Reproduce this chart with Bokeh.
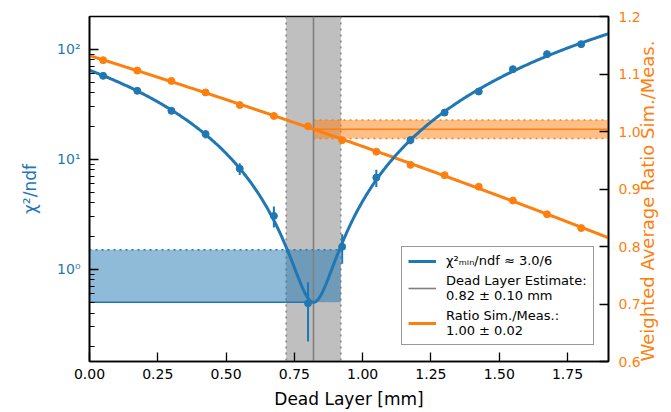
import numpy as np
from bokeh.plotting import figure
from bokeh.models import (Range1d, LinearAxis, LinearScale, FixedTicker, NumeralTickFormatter,
                          BoxAnnotation, Span, Legend, LegendItem)
from bokeh.embed import file_html
from bokeh.resources import INLINE

# ---------------- data ----------------
dead_layer_mm = [0.05, 0.175, 0.3, 0.425, 0.55, 0.675, 0.8, 0.925,
                 1.05, 1.175, 1.3, 1.425, 1.55, 1.675, 1.8]
chi2_ndf = [57.2, 41.8, 27.5, 16.9, 8.2, 3.05, 0.49, 1.6,
            6.8, 14.9, 26.5, 41.2, 65.8, 90.1, 111.0]
chi2_err = [2.0, 2.0, 1.5, 1.5, 1.0, 0.66, 0.27, 0.48,
            1.2, 1.2, 1.5, 2.0, 2.5, 3.0, 3.0]
ratio = [1.124, 1.106, 1.088, 1.068, 1.046, 1.027, 1.009, 0.985,
         0.965, 0.942, 0.924, 0.904, 0.880, 0.856, 0.832]
ratio_err = [0.003] * 15

dl_estimate = 0.82
dl_uncert = 0.10
chi2_min = 0.5          # 3.0 / 6
chi2_band_top = 1.5     # chi2_min + 1
ratio_est = 1.004
ratio_unc = 0.016

x_ticks = [0.0, 0.25, 0.5, 0.75, 1.0, 1.25, 1.5, 1.75]
left_ticks = [1, 10, 100]
left_tick_labels = ["10⁰", "10¹", "10²"]
right_ticks = [0.6, 0.7, 0.8, 0.9, 1.0, 1.1, 1.2]

x_lim = (0.0, 1.9)
y_lim = (0.145, 198.0)
r_lim = (0.6, 1.2)

right_label = "Weighted Average Ratio Sim./Meas."

BLUE = "#1f77b4"
ORANGE = "#ff7f0e"
GREY = "#808080"
FONT = "DejaVu Sans"

x = np.array(dead_layer_mm)
c = np.array(chi2_ndf)
ce = np.array(chi2_err)
r = np.array(ratio)
re_ = np.array(ratio_err)

# fitted curves from the data
xs = np.linspace(x_lim[0], x_lim[1], 500)
d = x - dl_estimate
A = np.vstack([d**2, d**3, d**4]).T
w = 1.0 / c
coef, *_ = np.linalg.lstsq(A * w[:, None], (c - chi2_min) * w, rcond=None)
ds = xs - dl_estimate
chi_curve = chi2_min + coef[0] * ds**2 + coef[1] * ds**3 + coef[2] * ds**4
chi_curve = np.maximum(chi_curve, chi2_min)

pr = np.polyfit(x, r, 2)
ratio_curve = np.polyval(pr, xs)

# ---------------- figure ----------------
p = figure(width=671, height=412, x_range=Range1d(*x_lim), y_range=Range1d(*y_lim),
           y_axis_type="log", output_backend="svg", toolbar_location=None,
           min_border_left=89, min_border_right=61, min_border_top=16, min_border_bottom=51)
p.extra_y_ranges = {"ratio": Range1d(*r_lim)}
p.extra_y_scales = {"ratio": LinearScale()}
p.xgrid.visible = False
p.ygrid.visible = False
p.outline_line_color = "black"
p.outline_line_width = 1.6
p.background_fill_color = "white"
p.border_fill_color = "white"

# grey band for dead layer estimate
p.add_layout(BoxAnnotation(left=dl_estimate - dl_uncert, right=dl_estimate + dl_uncert,
                           fill_color=GREY, fill_alpha=0.5, line_color=None, level="underlay"))
for edge in (dl_estimate - dl_uncert, dl_estimate + dl_uncert):
    p.add_layout(Span(location=edge, dimension="height", line_color=GREY, line_width=1.5,
                      line_dash="dotted", level="underlay"))

# blue chi2 band
p.quad(left=x_lim[0], right=dl_estimate + dl_uncert, bottom=chi2_min, top=chi2_band_top,
       fill_color=BLUE, fill_alpha=0.5, line_color=None)
p.line([x_lim[0], dl_estimate + dl_uncert], [chi2_band_top, chi2_band_top], line_color=BLUE,
       line_width=1.5, line_dash="dotted")
p.line([x_lim[0], dl_estimate], [chi2_min, chi2_min], line_color=BLUE, line_width=1.5)

# orange ratio band
p.quad(left=dl_estimate, right=x_lim[1], bottom=ratio_est - ratio_unc, top=ratio_est + ratio_unc,
       fill_color=ORANGE, fill_alpha=0.5, line_color=None, y_range_name="ratio")
for lev in (ratio_est - ratio_unc, ratio_est + ratio_unc):
    p.line([dl_estimate, x_lim[1]], [lev, lev], line_color=ORANGE, line_width=1.5,
           line_dash="dotted", y_range_name="ratio")
p.line([dl_estimate, x_lim[1]], [ratio_est, ratio_est], line_color=ORANGE, line_width=1.5,
       y_range_name="ratio")

# vertical estimate line
vline = p.line([dl_estimate, dl_estimate], [y_lim[0], y_lim[1]], line_color=GREY, line_width=1.6)

# orange ratio data
orange_line = p.line(xs, ratio_curve, line_color=ORANGE, line_width=3, y_range_name="ratio")
p.segment(x0=x, y0=r - re_, x1=x, y1=r + re_, line_color=ORANGE, line_width=2, y_range_name="ratio")
p.scatter(x, r, size=7, color=ORANGE, y_range_name="ratio")

# blue chi2 data
blue_line = p.line(xs, chi_curve, line_color=BLUE, line_width=3)
p.segment(x0=x, y0=c - ce, x1=x, y1=c + ce, line_color=BLUE, line_width=2)
p.scatter(x, c, size=7, color=BLUE)

# ---------------- axes ----------------
xa = p.xaxis[0]
xa.ticker = FixedTicker(ticks=x_ticks)
xa.formatter = NumeralTickFormatter(format="0.00")
xa.axis_label = "Dead Layer [mm]"

ya = p.yaxis[0]
minor = [m * 10.0**e for e in (-1, 0, 1, 2) for m in range(2, 10)]
ya.ticker = FixedTicker(ticks=left_ticks, minor_ticks=minor)
ya.major_label_overrides = {t: l for t, l in zip(left_ticks, left_tick_labels)}
ya.axis_label = "χ²/ndf"

ra = LinearAxis(y_range_name="ratio", ticker=FixedTicker(ticks=right_ticks),
                formatter=NumeralTickFormatter(format="0.0"), axis_label=right_label)
props = ra.properties()
if "axis_label_orientation" in props:
    ra.axis_label_orientation = np.pi / 2
if "axis_label_align" in props:
    ra.axis_label_align = "start"
p.add_layout(ra, "right")

for ax in (xa, ya, ra):
    ax.axis_line_color = "black"
    ax.axis_line_width = 1.6
    ax.major_tick_in = 9
    ax.major_tick_out = 0
    ax.minor_tick_in = 5
    ax.minor_tick_out = 0
    ax.major_tick_line_color = "black"
    ax.major_tick_line_width = 1.3
    ax.minor_tick_line_color = "black"
    ax.minor_tick_line_width = 1.0
    ax.major_label_text_font = FONT
    ax.major_label_text_font_size = "14px"
    ax.axis_label_text_font = FONT
    ax.axis_label_text_font_size = "17px"
    ax.axis_label_text_font_style = "normal"
xa.minor_tick_line_color = None
ra.minor_tick_line_color = None
ra.axis_label_text_font_size = "18px"

xa.major_label_standoff = 7
xa.axis_label_standoff = 7
ya.major_label_standoff = 9
ya.axis_label_standoff = 14
ra.major_label_standoff = 10
ra.axis_label_standoff = 4

ya.major_label_text_color = BLUE
ya.axis_label_text_color = BLUE
ra.major_label_text_color = ORANGE
ra.axis_label_text_color = ORANGE
xa.major_label_text_color = "black"
xa.axis_label_text_color = "black"

# ---------------- legend ----------------
legend = Legend(items=[
    LegendItem(label="χ²ₘᵢₙ/ndf ≈ 3.0/6", renderers=[blue_line]),
    LegendItem(label="Dead Layer Estimate:\n0.82 ± 0.10 mm", renderers=[vline]),
    LegendItem(label="Ratio Sim./Meas.:\n1.00 ± 0.02", renderers=[orange_line]),
], location=(312, 16))
legend.margin = 0
legend.padding = 6
legend.spacing = 5
legend.glyph_width = 28
legend.glyph_height = 14
legend.label_height = 14
legend.label_standoff = 10
legend.label_text_font = FONT
legend.label_text_font_size = "13px"
legend.label_text_color = "black"
legend.border_line_color = "#333333"
legend.border_line_width = 1.5
legend.background_fill_color = "white"
legend.background_fill_alpha = 1.0
p.add_layout(legend, "center")

open("out.html", "w").write(file_html(p, INLINE))
